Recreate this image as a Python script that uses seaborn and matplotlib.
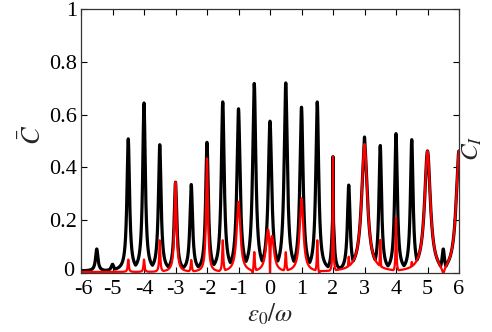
import numpy as np
import pandas as pd
import matplotlib
matplotlib.use("Agg")
import matplotlib.pyplot as plt
import matplotlib.transforms as mtransforms
import seaborn as sns

# Resonance peaks of the averaged concurrence (black): centre, height, half-width
black_centers = [-5.5, -5.0, -4.5, -4.0, -3.5, -3.0, -2.5, -2.0, -1.5, -1.0, -0.5,
                 0.0, 0.5, 1.0, 1.5, 2.0, 2.5, 3.0, 3.5, 4.0, 4.5, 5.5]
black_heights = [0.083, 0.025, 0.50, 0.636, 0.478, 0.335, 0.327, 0.487, 0.64, 0.614, 0.71,
                 0.567, 0.712, 0.62, 0.64, 0.21, 0.325, 0.507, 0.475, 0.52, 0.497, 0.083]
black_widths = [0.045, 0.05, 0.05, 0.05, 0.05, 0.05, 0.05, 0.05, 0.055, 0.06, 0.06,
                0.065, 0.06, 0.06, 0.055, 0.045, 0.05, 0.05, 0.05, 0.05, 0.05, 0.045]

# Resonance peaks of C_I (red): centre, height, half-width
red_centers = [-4.5, -4.0, -3.5, -3.0, -2.5, -2.0, -1.5, -1.0, -0.5, -0.06, 0.06,
               0.5, 1.0, 1.5, 2.0, 2.5, 3.0, 3.5, 4.0, 4.5, 5.0, 6.0]
red_heights = [0.047, 0.047, 0.12, 0.34, 0.045, 0.43, 0.12, 0.266, 0.08, 0.165, 0.14,
               0.075, 0.279, 0.125, 0.438, 0.058, 0.485, 0.122, 0.205, 0.038, 0.463, 0.463]
red_widths = [0.02, 0.02, 0.02, 0.04, 0.02, 0.035, 0.02, 0.07, 0.02, 0.08, 0.08,
              0.02, 0.07, 0.015, 0.012, 0.02, 0.11, 0.015, 0.015, 0.02, 0.11, 0.11]

# Narrow anti-resonances where C_I drops to zero: centre, half-width
red_dip_centers = [-0.55, 0.0, 1.56, 5.5]
red_dip_widths = [0.012, 0.01, 0.012, 0.05]

x_ticks = [-6, -5, -4, -3, -2, -1, 0, 1, 2, 3, 4, 5, 6]
y_ticks = [0, 0.2, 0.4, 0.6, 0.8, 1]

eps = np.linspace(-6, 6, 8001)


def lorentz(x, c, h, g):
    return h * g ** 2 / (g ** 2 + (x - c) ** 2)


red = np.max([lorentz(eps, c, h, g) for c, h, g in zip(red_centers, red_heights, red_widths)], axis=0)
red = red + 0.004
for c, g in zip(red_dip_centers, red_dip_widths):
    red *= 1 - lorentz(eps, c, 1.0, g)

black = np.max([lorentz(eps, c, h, g) for c, h, g in zip(black_centers, black_heights, black_widths)], axis=0)
black = np.maximum(black + 0.008, red)

df = pd.DataFrame({"eps": eps, "black": black, "red": red})

sns.set_theme(style="ticks")
plt.rcParams["font.family"] = ["Liberation Serif", "DejaVu Serif"]
plt.rcParams["mathtext.fontset"] = "stix"

fig = plt.figure(figsize=(4.92, 3.32), dpi=100)
ax = fig.add_axes([81 / 492, 1 - 273 / 332, 378 / 492, 264 / 332])

sns.lineplot(data=df, x="eps", y="black", color="black", lw=2.3, estimator=None, sort=False, ax=ax)
sns.lineplot(data=df, x="eps", y="red", color="#ff0000", lw=1.6, estimator=None, sort=False, ax=ax)

ax.set_xlim(-6, 6)
ax.set_ylim(0, 1)
ax.set_xticks(x_ticks)
ax.set_xticklabels([f"{t:g}" for t in x_ticks])
ax.set_yticks(y_ticks)
ax.set_yticklabels([f"{t:g}" for t in y_ticks])
ax.tick_params(direction="in", length=4, width=0.8, top=True, right=True,
               labelsize=16, colors="black")
ax.tick_params(axis="x", pad=5)
ax.tick_params(axis="y", pad=3)
for s in ax.spines.values():
    s.set_linewidth(0.9)
    s.set_color("#333333")

# keep the corner labels "0" and "-6" from running into each other
first_y = ax.get_yticklabels()[0]
first_y.set_transform(first_y.get_transform() +
                      mtransforms.ScaledTranslation(-2 / 72, 3 / 72, fig.dpi_scale_trans))
first_x = ax.get_xticklabels()[0]
first_x.set_transform(first_x.get_transform() +
                      mtransforms.ScaledTranslation(2 / 72, 0, fig.dpi_scale_trans))

ax.set_xlabel(r"$\epsilon_0/\omega$", fontsize=18, labelpad=2)
ax.set_ylabel("")
fig.text(33 / 492, 1 - 135 / 332, r"$\bar{C}$", rotation=90, fontsize=19,
         ha="center", va="center")
ax.text(1.034, 0.473, r"$C_I$", rotation=90, fontsize=18, transform=ax.transAxes,
        ha="center", va="center")

fig.savefig("out.png", dpi=100)
